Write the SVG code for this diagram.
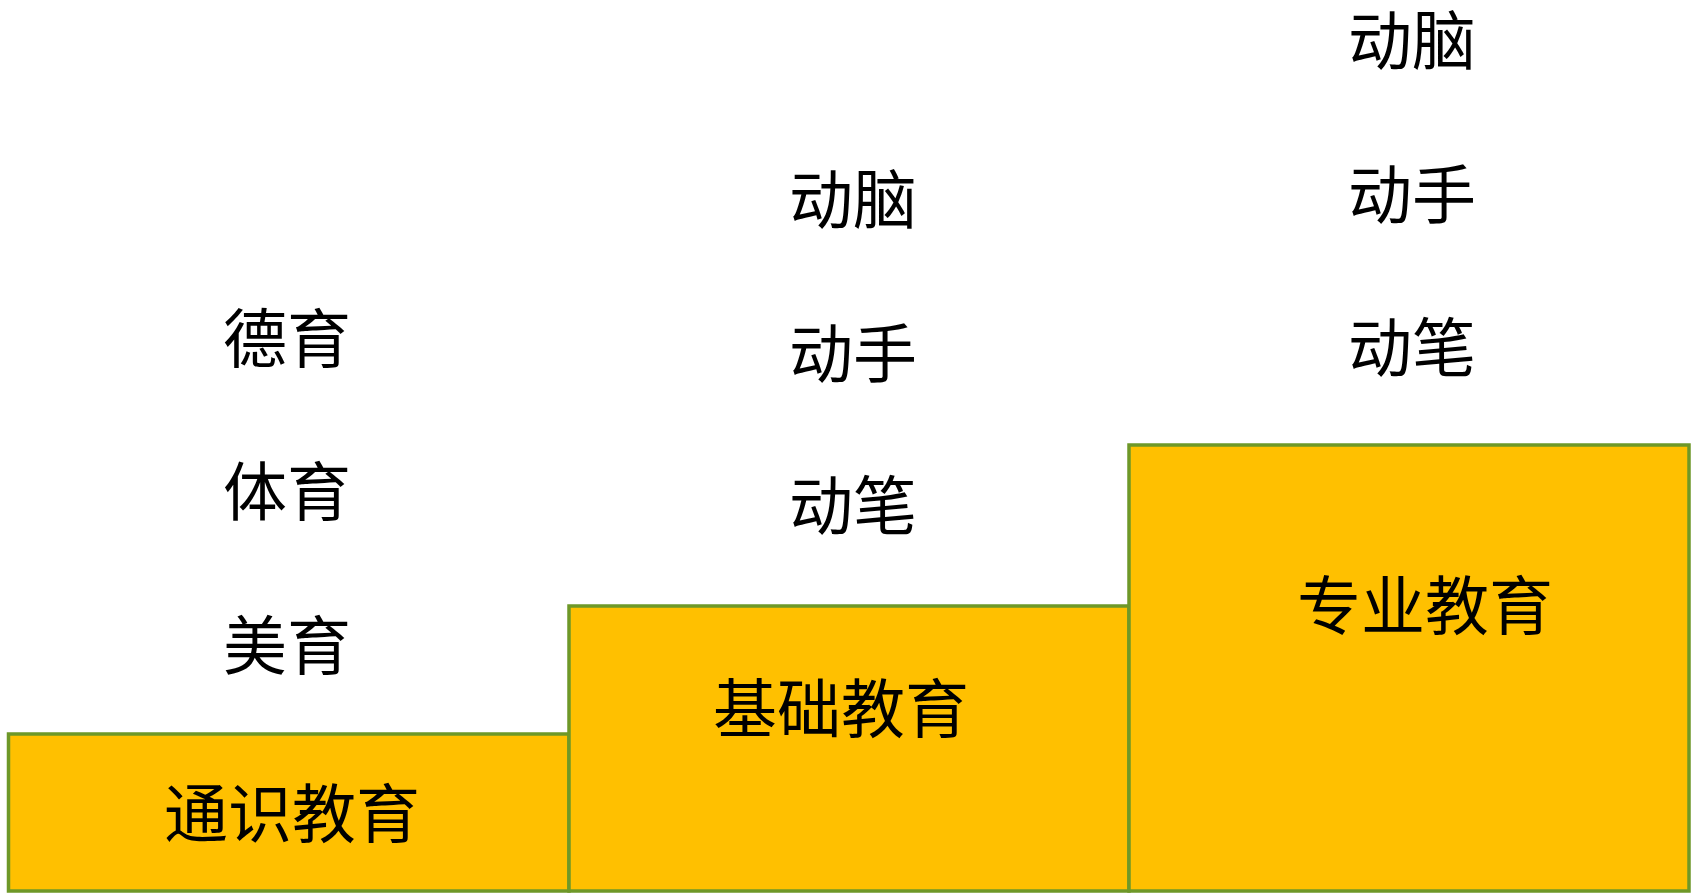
<svg xmlns="http://www.w3.org/2000/svg" width="1696" height="893" viewBox="0 0 1696 893">
<style>
.box{fill:#FFC000;stroke:#6E9828;stroke-width:3.5}
.t{font-family:"Noto Sans CJK SC","Noto Sans",sans-serif;font-size:64px;fill:#000;text-anchor:middle}
</style>
<rect width="1696" height="893" fill="#fff"/>
<g id="general">
<rect class="box" x="8.5" y="734" width="560.5" height="157"/>
<text class="t" x="292" y="837">通识教育</text>
</g>
<g id="basic">
<rect class="box" x="569" y="606" width="560" height="285"/>
<text class="t" x="841" y="732">基础教育</text>
</g>
<g id="major">
<rect class="box" x="1129" y="445" width="560" height="446"/>
<text class="t" x="1425" y="629">专业教育</text>
</g>
<g id="col1">
<text class="t" x="287" y="362">德育</text>
<text class="t" x="287" y="515">体育</text>
<text class="t" x="287" y="669">美育</text>
</g>
<g id="col2">
<text class="t" x="853" y="223">动脑</text>
<text class="t" x="853" y="377">动手</text>
<text class="t" x="853" y="529">动笔</text>
</g>
<g id="col3">
<text class="t" x="1412" y="64">动脑</text>
<text class="t" x="1412" y="218">动手</text>
<text class="t" x="1412" y="371">动笔</text>
</g>
<g id="connectors"></g>
</svg>
